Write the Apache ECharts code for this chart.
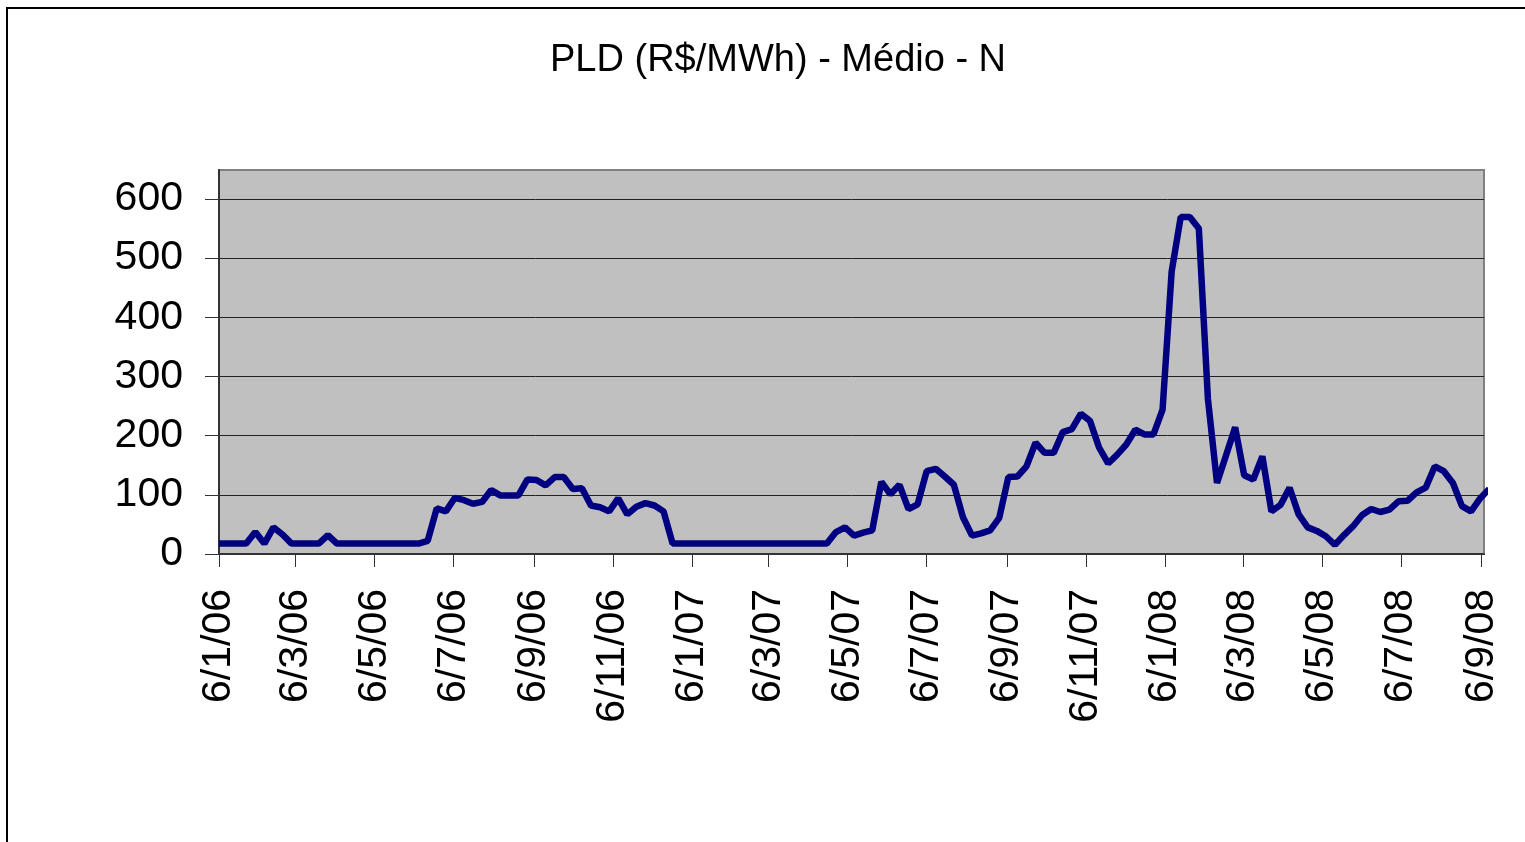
<!DOCTYPE html>
<html lang="pt-BR">
<head>
<meta charset="utf-8">
<title>PLD (R$/MWh) - Médio - N</title>
<script src="https://cdn.jsdelivr.net/npm/echarts@6/dist/echarts.min.js"></script>
<style>
    html, body { margin: 0; padding: 0; background: #fff; }
    #chart { width: 1525px; height: 842px; }
</style>
</head>
<body>
<div id="chart"></div>
<script>
// PLD semanal (R$/MWh), primeira semana em 6/1/06, uma semana por ponto
var inicioSemanas = [2006, 0, 6];
var pld = [
    17.6, 17.6, 17.6, 17.6, 37, 17.6, 45, 33, 17.6, 17.6,
    17.6, 17.6, 32, 17.6, 17.6, 17.6, 17.6, 17.6, 17.6, 17.6,
    17.6, 17.6, 17.6, 22, 77, 72, 95, 91, 85, 88,
    108, 99, 99, 99, 126, 125, 116, 130, 130, 110,
    111, 82, 79, 72, 94, 67, 80, 86, 82, 72,
    17.6, 17.6, 17.6, 17.6, 17.6, 17.6, 17.6, 17.6, 17.6, 17.6,
    17.6, 17.6, 17.6, 17.6, 17.6, 17.6, 17.6, 17.6, 37, 45,
    31, 36, 40, 122, 101, 117, 76, 84, 140, 144,
    131, 117, 62, 31, 35, 40, 61, 130, 131, 148,
    188, 171, 171, 206, 211, 237, 225, 180, 153, 168,
    185, 210, 202, 202, 244, 477, 569.6, 569.6, 550, 262,
    120, 167, 214, 133, 126, 165, 72, 83, 112, 67,
    45, 39, 30, 15.5, 32, 47, 66, 76, 71, 75,
    89, 90, 104, 112, 148, 140, 120, 81, 72, 94,
    110
];
var rotulosX = ['6/1/06', '6/3/06', '6/5/06', '6/7/06', '6/9/06', '6/11/06',
                '6/1/07', '6/3/07', '6/5/07', '6/7/07', '6/9/07', '6/11/07',
                '6/1/08', '6/3/08', '6/5/08', '6/7/08', '6/9/08'];
var rotulosY = [0, 100, 200, 300, 400, 500, 600];

function paraData(txt) {
    var p = txt.split('/');
    return new Date(2000 + Number(p[2]), Number(p[1]) - 1, Number(p[0])).getTime();
}
function formataData(val) {
    var d = new Date(val);
    return d.getDate() + '/' + (d.getMonth() + 1) + '/' + String(d.getFullYear()).slice(2);
}

var dados = [];
for (var i = 0; i < pld.length; i++) {
    var t = new Date(inicioSemanas[0], inicioSemanas[1], inicioSemanas[2] + 7 * i).getTime();
    dados.push([t, pld[i]]);
}
var ticksX = rotulosX.map(paraData);

var chart = echarts.init(document.getElementById('chart'));
chart.setOption({
    animation: false,
    backgroundColor: '#fff',
    title: {
        text: 'PLD (R$/MWh) - Médio - N',
        left: 545,
        top: 37,
        textStyle: { fontFamily: 'Liberation Sans', fontSize: 38, fontWeight: 'normal', color: '#000' }
    },
    graphic: [{
        type: 'rect',
        shape: { x: 7, y: 8, width: 1700, height: 1000 },
        style: { fill: 'none', stroke: '#000', lineWidth: 2 },
        silent: true
    }],
    grid: {
        left: 219, top: 170, right: 41, bottom: 288,
        show: true,
        backgroundColor: '#c0c0c0',
        borderColor: '#808080',
        borderWidth: 2
    },
    xAxis: {
        type: 'value',
        min: paraData('6/1/06'),
        max: paraData('8/9/08'),
        axisLine: { lineStyle: { color: '#333', width: 2 } },
        axisTick: { show: true, customValues: ticksX, length: 13, lineStyle: { color: '#333' } },
        axisLabel: {
            customValues: ticksX,
            rotate: 90,
            margin: 35,
            formatter: formataData,
            fontFamily: 'Liberation Sans',
            fontSize: 41,
            color: '#000'
        },
        splitLine: { show: false }
    },
    yAxis: {
        type: 'value',
        min: 0,
        max: 649,
        interval: 100,
        axisLine: { show: true, lineStyle: { color: '#333', width: 2 } },
        axisTick: { show: true, customValues: rotulosY, length: 14, lineStyle: { color: '#333' } },
        axisLabel: {
            customValues: rotulosY,
            margin: 36,
            fontFamily: 'Liberation Sans',
            fontSize: 41,
            color: '#000'
        },
        splitLine: { show: true, lineStyle: { color: '#222', width: 1 } }
    },
    series: [{
        type: 'line',
        data: dados,
        showSymbol: false,
        clip: true,
        lineStyle: { color: '#000080', width: 6.5 }
    }]
});
</script>
</body>
</html>
